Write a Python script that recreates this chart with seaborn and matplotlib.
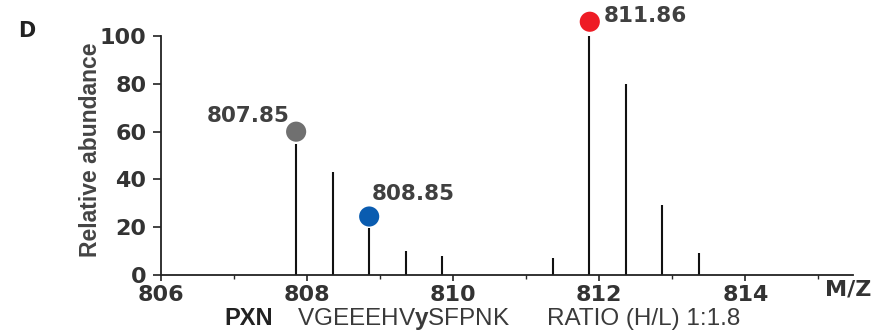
import matplotlib
matplotlib.use('Agg')
import matplotlib.pyplot as plt
import seaborn as sns
import pandas as pd
from matplotlib.ticker import MultipleLocator

# Picos del espectro (m/z y abundancia relativa)
mz = [807.85, 808.35, 808.85, 809.35, 809.85, 811.36, 811.86, 812.36, 812.86, 813.36]
abundancia = [55, 43, 19.5, 10, 8, 7.3, 100, 80, 29.4, 9.4]

# Picos marcados con punto y etiqueta
mz_marcados = [807.85, 808.85, 811.87]
y_marcados = [60, 24.5, 106]
etiquetas = ['807.85', '808.85', '811.86']
colores = ['#707070', '#0a5cb0', '#ee1c25']

sns.set_style('ticks')
plt.rcParams['font.family'] = ['Liberation Sans', 'DejaVu Sans']
plt.rcParams['mathtext.fontset'] = 'custom'
plt.rcParams['mathtext.rm'] = 'Liberation Sans'
plt.rcParams['mathtext.bf'] = 'Liberation Sans:bold'

df = pd.DataFrame({'mz': mz, 'abundancia': abundancia})
df_m = pd.DataFrame({'mz': mz_marcados, 'y': y_marcados, 'etiqueta': etiquetas})

fig = plt.figure(figsize=(8.88, 3.31), dpi=100)
ax = fig.add_axes([0.1813, 0.169, 0.779, 0.722])

ax.vlines(df['mz'], 0, df['abundancia'], color='#111111', linewidth=1.5)
sns.scatterplot(data=df_m, x='mz', y='y', hue='etiqueta', palette=colores,
                s=210, edgecolor='none', legend=False, ax=ax, zorder=3,
                clip_on=False)

# Etiquetas de los picos
fuente_num = dict(family='DejaVu Sans', fontsize=15.5, fontweight='bold', color='#404040')
ax.text(807.76, 64, '807.85', ha='right', va='baseline', clip_on=False, **fuente_num)
ax.text(808.89, 31.4, '808.85', ha='left', va='baseline', clip_on=False, **fuente_num)
ax.text(812.06, 105.9, '811.86', ha='left', va='baseline', clip_on=False, **fuente_num)

ax.set_xlim(806, 815.47)
ax.set_ylim(0, 100)
ax.set_xticks([806, 808, 810, 812, 814])
ax.xaxis.set_minor_locator(MultipleLocator(1))
ax.set_yticks([0, 20, 40, 60, 80, 100])
ax.tick_params(axis='both', width=1.2, colors='#222222', labelcolor='#333333')
ax.tick_params(axis='x', which='major', length=4, pad=3)
ax.tick_params(axis='x', which='minor', length=3, width=1)
ax.tick_params(axis='y', length=5.5, pad=5)
for lab in ax.get_xticklabels() + ax.get_yticklabels():
    lab.set_family('DejaVu Sans')
    lab.set_fontweight('bold')
    lab.set_fontsize(16)
for s in ['left', 'bottom']:
    ax.spines[s].set_linewidth(1.3)
    ax.spines[s].set_color('#222222')
sns.despine(ax=ax)

ax.set_xlabel('')
ax.set_ylabel('Relative abundance', fontsize=16.5, fontweight='bold', color='#444444')
ax.yaxis.set_label_coords(-0.086, 0.525)

ax.text(0.96, -0.02, 'M/Z', transform=ax.transAxes, ha='left', va='top',
        family='DejaVu Sans', fontsize=16, fontweight='bold', color='#333333')

fig.text(0.020, 0.888, 'D', family='DejaVu Sans', fontsize=15, fontweight='bold',
         color='#222222')

# Texto inferior
fig.text(0.253, 0.018, 'PXN', fontsize=17, fontweight='bold', color='#222222')
fig.text(0.334, 0.018, r'VGEEEHV$\mathbf{y}$SFPNK', fontsize=17.5, color='#3a3a3a')
fig.text(0.616, 0.018, 'RATIO (H/L) 1:1.8', fontsize=17.5, color='#3a3a3a')

fig.savefig('out.png', dpi=100)
